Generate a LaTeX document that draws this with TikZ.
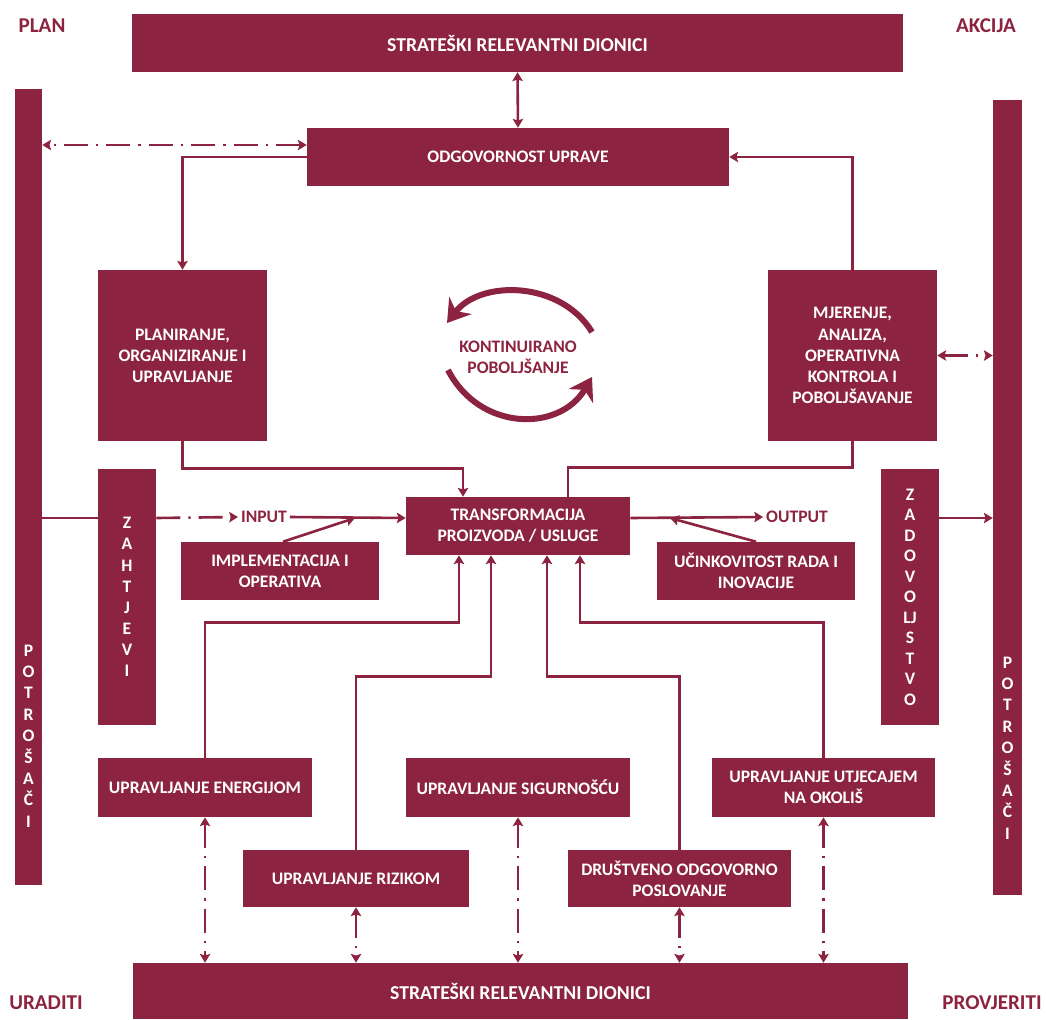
\documentclass[tikz,border=0pt]{standalone}
\usepackage{fontspec}
\setmainfont{Carlito}
\usetikzlibrary{arrows.meta}
\definecolor{bordo}{RGB}{140,35,64}

\tikzset{
  blok/.style={fill=bordo, text=white, font=\bfseries\fontsize{12.5}{15}\selectfont, align=center, inner sep=0pt},
  slova/.style={text=white, font=\bfseries\fontsize{12.5}{15.2}\selectfont, align=center, inner sep=0pt},
  natpis/.style={text=bordo, font=\bfseries\fontsize{15}{18}\selectfont, inner sep=0pt},
  oznaka/.style={text=bordo, font=\bfseries\fontsize{12.5}{15}\selectfont, align=center, inner sep=2pt},
  veza/.style={draw=bordo, line width=0.65mm},
  crta/.style={veza, dash pattern=on 6mm off 2mm on 0.6mm off 2mm},
  krug/.style={draw=bordo, line width=1.5mm, -{Stealth[length=5.5mm,width=7mm]}}
}

\begin{document}
\begin{tikzpicture}[x=0.25mm, y=-0.25mm, >={Stealth[length=2.2mm,width=2.6mm,inset=0.4mm]}]
  \useasboundingbox (0,0) rectangle (1046,1019);

  \node[natpis] (plan) at (42,26) {PLAN};
  \node[natpis] (akcija) at (986,26) {AKCIJA};
  \node[natpis] (uraditi) at (46,1003) {URADITI};
  \node[natpis] (provjeriti) at (992,1003) {PROVJERITI};

  \node[blok, minimum width=192.75mm, minimum height=14.5mm, font=\bfseries\fontsize{14}{16}\selectfont] (dioniciG) at (517.5,43) {STRATEŠKI RELEVANTNI DIONICI};
  \node[blok, minimum width=193.75mm, minimum height=14mm, font=\bfseries\fontsize{14}{16}\selectfont] (dioniciD) at (520.5,991) {STRATEŠKI RELEVANTNI DIONICI};

  \node[blok, minimum width=6.75mm, minimum height=199mm] (potL) at (28.5,487) {};
  \node[blok, minimum width=7.25mm, minimum height=198.75mm] (potR) at (1007.5,497.5) {};
  \node[slova] (potLtekst) at (28.5,736) {P\\O\\T\\R\\O\\Š\\A\\Č\\I};
  \node[slova] (potRtekst) at (1007.5,748) {P\\O\\T\\R\\O\\Š\\A\\Č\\I};

  \node[blok, minimum width=105.5mm, minimum height=14.5mm] (uprava) at (518,157) {ODGOVORNOST UPRAVE};
  \node[blok, minimum width=42.25mm, minimum height=42.75mm] (planiranje) at (182.5,355.5) {PLANIRANJE,\\ORGANIZIRANJE I\\UPRAVLJANJE};
  \node[blok, minimum width=42.25mm, minimum height=42.75mm] (mjerenje) at (852.5,355.5) {MJERENJE,\\ANALIZA,\\OPERATIVNA\\KONTROLA I\\POBOLJŠAVANJE};
  \node[blok, minimum width=56mm, minimum height=14.5mm] (trans) at (518,526) {TRANSFORMACIJA\\PROIZVODA / USLUGE};

  \node[blok, minimum width=14.5mm, minimum height=64mm] (zahtjevi) at (127,597) {Z\\A\\H\\T\\J\\E\\V\\I};
  \node[blok, minimum width=14.5mm, minimum height=64mm, font=\bfseries\fontsize{12.5}{14.6}\selectfont] (zadovoljstvo) at (910,597) {Z\\A\\D\\O\\V\\O\\LJ\\S\\T\\V\\O};

  \node[blok, minimum width=49.5mm, minimum height=14.5mm] (impl) at (280,571) {IMPLEMENTACIJA I\\OPERATIVA};
  \node[blok, minimum width=49.5mm, minimum height=14.5mm] (ucin) at (756,571) {UČINKOVITOST RADA I\\INOVACIJE};
  \node[oznaka] (ulaz) at (264,517) {INPUT};
  \node[oznaka] (izlaz) at (797,517) {OUTPUT};

  \node[blok, minimum width=53.5mm, minimum height=14.75mm] (energija) at (205,787.5) {UPRAVLJANJE ENERGIJOM};
  \node[blok, minimum width=56mm, minimum height=14.75mm] (sigurnost) at (518,787.5) {UPRAVLJANJE SIGURNOŠĆU};
  \node[blok, minimum width=55.75mm, minimum height=14.75mm] (okolis) at (823.5,787.5) {UPRAVLJANJE UTJECAJEM\\NA OKOLIŠ};
  \node[blok, minimum width=56.5mm, minimum height=14.25mm] (rizik) at (356,878.5) {UPRAVLJANJE RIZIKOM};
  \node[blok, minimum width=55.75mm, minimum height=14.25mm] (drustveno) at (679.5,878.5) {DRUŠTVENO ODGOVORNO\\POSLOVANJE};

  \node[oznaka] (kontinuirano) at (518,357) {KONTINUIRANO\\POBOLJŠANJE};
  \draw[krug] (592,332) .. controls (560,280) and (480,280) .. (447,323);
  \draw[krug] (448,370) .. controls (480,432) and (560,432) .. (592,377);

  % gornji dio
  \draw[veza, <->] (dioniciG.south) -- (uprava.north);
  \draw[crta, <->] ([yshift=3mm]uprava.west) -- ([yshift=3mm]uprava.west -| potL.east);
  \draw[veza, ->] (uprava.west) -| (planiranje.north);
  \draw[veza, ->] (mjerenje.north) |- (uprava.east);
  \draw[crta, <->] (mjerenje.east) -- (mjerenje.east -| potR.west);
  \draw[veza, ->] (planiranje.south) -- ++(0,27) -| ([xshift=-13.75mm]trans.north);
  \draw[veza] (mjerenje.south) -- ++(0,26) -| ([xshift=12.5mm]trans.north);

  % ulaz i izlaz
  \coordinate (os) at (518,518);
  \coordinate (spojI) at (355,518);
  \coordinate (spojU) at (670,518);
  \draw[veza] (potL.east |- os) -- (zahtjevi.west |- os);
  \draw[crta, ->] (zahtjevi.east |- os) -- (ulaz.west);
  \draw[veza, ->] (ulaz.east) -- (trans.west |- os);
  \draw[veza, ->] ([xshift=0.75mm]impl.north) -- (spojI);
  \draw[veza, ->] (trans.east |- os) -- (izlaz.west);
  \draw[veza, ->] (ucin.north) -- (spojU);
  \draw[veza, ->] (zadovoljstvo.east |- os) -- (potR.west |- os);

  % donji dio
  \draw[veza, ->] (energija.north) -- ++(0,-135) -| ([xshift=-14.75mm]trans.south);
  \draw[veza, ->] (rizik.north) -- ++(0,-173) -| ([xshift=-6.75mm]trans.south);
  \draw[veza, ->] (drustveno.north) -- ++(0,-173) -| ([xshift=7.25mm]trans.south);
  \draw[veza, ->] (okolis.north) -- ++(0,-135) -| ([xshift=15.5mm]trans.south);

  \draw[crta, <->] (energija.south) -- (energija.south |- dioniciD.north);
  \draw[crta, <->] (rizik.south) -- (rizik.south |- dioniciD.north);
  \draw[crta, <->] (sigurnost.south) -- (sigurnost.south |- dioniciD.north);
  \draw[crta, <->] (drustveno.south) -- (drustveno.south |- dioniciD.north);
  \draw[crta, <->] (okolis.south) -- (okolis.south |- dioniciD.north);
\end{tikzpicture}
\end{document}
